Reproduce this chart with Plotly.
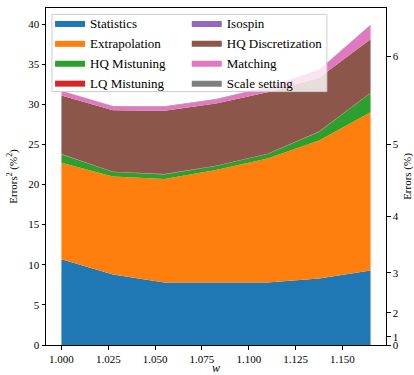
import plotly.graph_objects as go

w = [1.0, 1.0275, 1.055, 1.0825, 1.11, 1.1375, 1.165]

statistics = [10.7, 8.8, 7.8, 7.8, 7.8, 8.3, 9.3]
extrapolation = [12.0, 12.2, 12.9, 14.0, 15.45, 17.2, 19.7]
hq_mistuning = [1.05, 0.55, 0.55, 0.5, 0.55, 1.05, 2.4]
lq_mistuning = [0.03, 0.03, 0.03, 0.03, 0.03, 0.03, 0.03]
isospin = [0.02, 0.02, 0.02, 0.02, 0.02, 0.02, 0.02]
hq_discretization = [7.3, 7.65, 7.9, 7.75, 7.65, 6.7, 6.65]
matching = [0.55, 0.5, 0.5, 0.5, 0.65, 0.95, 1.75]
scale_setting = [0.05, 0.05, 0.05, 0.05, 0.05, 0.05, 0.05]

names = ["Statistics", "Extrapolation", "HQ Mistuning", "LQ Mistuning",
         "Isospin", "HQ Discretization", "Matching", "Scale setting"]
series = [statistics, extrapolation, hq_mistuning, lq_mistuning,
          isospin, hq_discretization, matching, scale_setting]
colors = ["#1f77b4", "#ff7f0e", "#2ca02c", "#d62728",
          "#9467bd", "#8c564b", "#e377c2", "#7f7f7f"]
legend_ids = ["legend"] * 4 + ["legend2"] * 4

right_ticks = [0, 1, 2, 3, 4, 5, 6]

FONT = "Liberation Serif"

fig = go.Figure()
for n, s, c, lg in zip(names, series, colors, legend_ids):
    fig.add_trace(go.Scatter(
        x=w, y=s, name=n, stackgroup="one", mode="lines",
        line=dict(width=0, color=c), fillcolor=c, legend=lg,
    ))

# invisible trace for the right axis
fig.add_trace(go.Scatter(x=[w[0]], y=[0], yaxis="y2", mode="markers",
                         marker=dict(opacity=0), showlegend=False,
                         hoverinfo="skip"))

ymax = 42.0
leg_common = dict(
    yanchor="top", xanchor="left", y=1.0,
    bgcolor="rgba(0,0,0,0)", borderwidth=0,
    font=dict(family=FONT, size=13), traceorder="normal",
    itemclick=False, itemdoubleclick=False,
)
fig.update_layout(
    width=414, height=375,
    margin=dict(l=46, r=28, t=7.5, b=29.5, autoexpand=False),
    paper_bgcolor="white", plot_bgcolor="white",
    font=dict(family=FONT, size=11, color="black"),
    showlegend=True,
    legend=dict(x=0.012, **leg_common),
    legend2=dict(x=0.414, **leg_common),
    shapes=[dict(
        type="rect", xref="paper", yref="paper",
        x0=0.0176, x1=0.826, y0=0.752, y1=0.981,
        fillcolor="rgba(255,255,255,0.8)",
        line=dict(color="#cccccc", width=1), layer="above",
    )],
    xaxis=dict(
        range=[0.99175, 1.17325], automargin=False,
        tickvals=[1.0, 1.025, 1.05, 1.075, 1.1, 1.125, 1.15],
        ticktext=["1.000", "1.025", "1.050", "1.075", "1.100", "1.125", "1.150"],
        ticks="outside", ticklen=3.5, tickcolor="black",
        showline=True, linecolor="black", linewidth=1, mirror=True,
        showgrid=False, zeroline=False,
        title=dict(text="<i>w</i>", standoff=10, font=dict(size=12)),
    ),
    yaxis=dict(
        range=[0, ymax], automargin=False,
        tickvals=[0, 5, 10, 15, 20, 25, 30, 35, 40],
        ticks="outside", ticklen=3.5, tickcolor="black",
        showline=True, linecolor="black", linewidth=1, mirror=True,
        showgrid=False, zeroline=False,
        title=dict(text="Errors<sup>2</sup> (%<sup>2</sup>)", standoff=8,
                   font=dict(size=11)),
    ),
    yaxis2=dict(
        overlaying="y", side="right", range=[0, ymax], automargin=False,
        tickvals=[v * v for v in right_ticks],
        ticktext=[str(v) for v in right_ticks],
        ticks="outside", ticklen=3.5, tickcolor="black",
        showline=True, linecolor="black", linewidth=1,
        showgrid=False, zeroline=False,
        title=dict(text="Errors (%)", standoff=15, font=dict(size=11)),
    ),
)

fig.write_html("out.html")
